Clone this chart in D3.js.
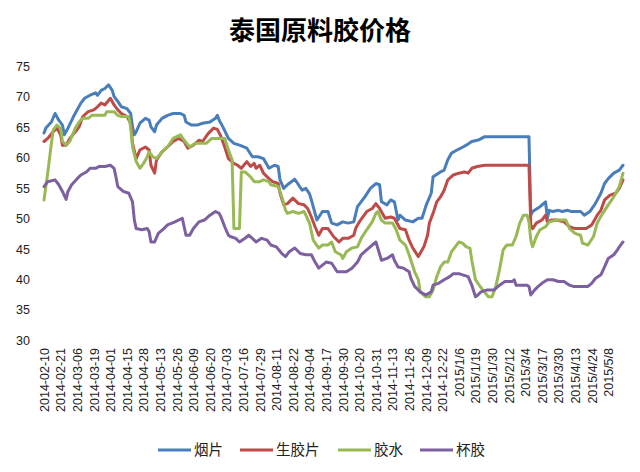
<!DOCTYPE html>
<html><head><meta charset="utf-8">
<script src="https://cdn.jsdelivr.net/npm/d3@7/dist/d3.min.js"></script>
<style>
html,body{margin:0;padding:0;background:#fff;}
svg{display:block;}
</style></head>
<body>
<svg id="chart" width="640" height="472"></svg>
<script>
const title = "泰国原料胶价格";
const tickLabels = ["2014-02-10","2014-02-21","2014-03-06","2014-03-19","2014-04-01","2014-04-15","2014-04-28","2014-05-13","2014-05-26","2014-06-09","2014-06-20","2014-07-03","2014-07-16","2014-07-29","2014-08-11","2014-08-22","2014-09-04","2014-09-17","2014-09-30","2014-10-20","2014-10-31","2014-11-13","2014-11-26","2014-12-09","2014-12-22","2015/1/6","2015/1/19","2015/1/30","2015/2/12","2015/3/4","2015/3/17","2015/3/30","2015/4/13","2015/4/24","2015/5/8"];
const daysPerTick = 9;
const lastDay = 314;
const yTicks = [30,35,40,45,50,55,60,65,70,75];
const seriesNames = ["烟片","生胶片","胶水","杯胶"];
const seriesColors = ["#4a7ebb","#be4b48","#98b954","#7d60a0"];

// [trading-day index, price]
const yanpian = [[0,64.0],[1,64.8],[4,65.8],[6,67.2],[8,66.1],[10,65.3],[11,63.7],[13,64.8],[16,66.7],[18,67.8],[20,68.9],[22,69.7],[25,70.2],[28,70.6],[29,70.2],[31,71.0],[33,71.3],[35,71.9],[37,71.0],[38,70.0],[40,69.2],[42,68.3],[45,68.0],[47,67.2],[48,65.0],[49,63.7],[50,64.2],[52,65.6],[55,66.4],[57,66.1],[58,65.0],[60,64.2],[61,65.3],[64,66.4],[67,66.9],[70,67.2],[74,67.2],[76,66.9],[77,65.8],[80,65.3],[83,65.3],[86,65.6],[90,65.8],[93,66.4],[94,66.9],[95,66.1],[97,65.0],[100,63.1],[103,62.3],[106,62.0],[110,61.5],[113,60.1],[116,60.1],[119,59.8],[122,58.2],[125,58.7],[127,58.5],[128,56.3],[130,54.9],[132,55.5],[136,56.4],[138,55.5],[140,54.6],[142,54.9],[144,54.0],[145,53.0],[148,49.7],[151,51.1],[154,51.1],[156,49.2],[159,48.9],[162,49.4],[165,49.2],[168,49.4],[170,51.9],[174,53.5],[177,54.9],[180,55.7],[182,55.5],[183,52.7],[186,52.2],[188,53.0],[190,52.7],[192,49.7],[193,50.5],[196,49.7],[200,49.4],[203,50.0],[205,50.0],[207,51.9],[208,52.7],[210,54.1],[211,56.8],[215,57.6],[217,57.9],[219,59.6],[221,60.7],[224,61.2],[226,61.5],[229,62.0],[232,62.6],[236,62.9],[239,63.4],[263,63.4],[264,50.5],[265,51.1],[269,51.9],[272,52.7],[273,50.0],[274,51.3],[276,51.1],[279,51.3],[281,51.1],[284,51.3],[286,51.1],[291,51.1],[293,50.5],[296,51.1],[299,52.4],[302,54.1],[304,55.7],[306,56.5],[309,57.4],[312,57.9],[314,58.7]];
const shengjiaopian = [[0,62.6],[2,63.1],[5,64.2],[7,64.8],[9,63.7],[10,62.0],[12,62.0],[14,63.1],[17,64.2],[19,65.0],[20,65.8],[21,66.7],[24,67.5],[27,67.8],[29,68.3],[31,68.9],[33,68.6],[36,69.7],[38,68.6],[40,67.8],[42,67.2],[45,66.7],[47,65.6],[48,62.3],[50,59.8],[52,61.2],[55,61.7],[57,61.2],[58,58.7],[60,57.4],[61,59.6],[64,60.9],[67,61.7],[70,62.6],[73,63.1],[76,62.6],[78,61.5],[81,62.0],[84,62.8],[86,62.6],[89,63.9],[92,64.8],[94,64.6],[96,63.4],[98,61.7],[100,59.8],[103,59.0],[105,58.7],[107,58.2],[110,59.3],[112,58.5],[114,59.0],[115,58.2],[117,58.7],[119,57.4],[122,56.5],[124,56.0],[127,55.7],[128,54.1],[130,52.2],[132,52.4],[135,53.3],[138,52.4],[141,52.2],[143,51.6],[145,50.2],[147,48.6],[149,47.2],[151,48.3],[154,48.3],[157,47.0],[160,46.1],[162,46.7],[165,46.7],[168,47.2],[169,48.3],[171,49.4],[175,51.1],[178,51.6],[180,52.4],[182,51.6],[185,50.0],[188,50.2],[190,50.0],[193,48.3],[196,48.1],[198,46.4],[200,45.1],[203,43.7],[206,45.3],[208,47.2],[209,49.2],[211,50.8],[213,52.7],[215,53.5],[217,54.6],[219,56.3],[222,57.1],[225,57.4],[228,57.6],[230,57.4],[232,58.2],[235,58.5],[239,58.7],[263,58.7],[264,48.9],[265,48.3],[267,49.2],[270,49.7],[272,50.5],[273,49.4],[275,49.7],[278,49.7],[282,49.4],[285,48.6],[288,48.3],[294,48.3],[297,48.9],[300,50.5],[302,51.3],[304,53.0],[307,53.8],[310,54.1],[312,54.9],[314,56.3]];
const jiaoshui = [[0,53.0],[2,57.4],[4,62.3],[5,64.5],[7,65.3],[9,64.8],[10,62.6],[12,62.0],[14,62.6],[17,64.8],[19,65.8],[21,66.4],[24,66.4],[26,66.9],[33,66.9],[34,67.5],[38,67.5],[40,66.9],[42,66.7],[46,66.7],[47,65.0],[48,61.7],[50,59.3],[52,58.2],[54,59.0],[56,60.1],[57,60.9],[59,60.1],[61,59.8],[64,60.9],[67,61.7],[70,63.1],[74,63.7],[76,62.8],[79,61.7],[82,62.3],[88,62.3],[91,63.1],[98,63.1],[100,61.2],[102,59.6],[103,48.3],[106,48.3],[107,57.6],[109,57.6],[112,56.8],[114,56.0],[117,56.0],[119,56.3],[122,56.0],[123,55.5],[127,55.2],[129,53.5],[131,51.3],[132,50.8],[135,51.1],[138,50.8],[141,51.1],[142,50.5],[144,49.2],[146,46.4],[149,45.1],[151,45.6],[154,45.6],[156,46.1],[158,44.5],[161,44.0],[162,43.4],[164,44.5],[167,45.1],[170,45.3],[172,46.7],[175,48.1],[178,49.4],[180,50.8],[181,51.1],[183,49.7],[185,49.2],[189,49.2],[191,48.1],[193,46.4],[196,45.6],[198,44.0],[201,41.2],[203,39.9],[204,37.9],[207,37.1],[209,37.1],[211,38.2],[213,40.4],[215,42.0],[217,42.8],[219,42.8],[221,44.5],[223,45.3],[225,46.1],[227,45.9],[229,45.3],[231,45.1],[232,43.1],[234,39.9],[236,39.0],[238,38.2],[241,37.1],[243,37.1],[245,38.8],[247,41.5],[249,44.8],[251,45.6],[254,45.6],[256,47.0],[258,49.2],[260,50.5],[262,50.5],[263,49.4],[264,46.4],[265,45.3],[267,47.0],[269,48.1],[272,48.6],[274,49.4],[278,49.7],[283,49.7],[285,48.3],[288,47.5],[291,47.2],[292,45.9],[295,45.6],[298,47.0],[300,49.2],[303,50.8],[306,52.2],[309,53.5],[312,55.2],[314,57.4]];
const beijiao = [[0,55.2],[2,56.0],[6,56.3],[8,55.5],[10,54.4],[12,53.1],[13,54.4],[15,55.5],[18,56.5],[20,57.1],[23,57.6],[25,58.2],[28,58.2],[30,58.5],[33,58.5],[36,58.7],[38,58.2],[39,56.8],[40,55.2],[43,54.4],[46,54.1],[48,52.7],[49,49.7],[50,48.3],[53,48.1],[56,48.3],[57,47.8],[58,46.1],[60,46.1],[62,47.5],[65,48.3],[67,48.9],[71,49.4],[75,50.0],[76,48.6],[77,47.2],[79,47.2],[81,48.3],[84,49.4],[87,49.7],[90,50.5],[93,51.1],[95,50.8],[96,50.2],[98,48.6],[100,47.2],[101,47.0],[104,46.7],[106,46.1],[109,46.7],[111,47.2],[113,46.7],[115,46.1],[118,46.7],[121,46.4],[123,45.6],[126,45.3],[129,44.2],[131,43.7],[133,44.5],[136,45.1],[139,44.2],[142,44.0],[145,44.0],[147,42.8],[149,41.8],[151,42.3],[153,42.8],[156,42.6],[159,41.2],[164,41.2],[167,41.8],[170,42.8],[172,44.0],[175,44.8],[178,45.6],[180,46.1],[181,45.1],[183,43.1],[186,43.4],[189,44.0],[190,43.1],[192,42.0],[195,41.8],[198,41.2],[199,40.1],[201,38.8],[204,37.9],[207,37.4],[210,37.9],[211,39.0],[214,39.3],[217,39.9],[220,40.4],[222,40.9],[225,40.9],[227,40.7],[230,40.4],[232,39.0],[234,37.1],[235,37.3],[237,37.9],[240,38.2],[244,38.2],[247,39.0],[250,39.6],[254,39.6],[255,39.9],[256,39.0],[262,39.0],[263,38.8],[264,37.4],[266,38.2],[268,38.8],[270,39.3],[273,39.9],[276,39.9],[279,39.6],[282,39.6],[285,39.0],[287,38.8],[295,38.8],[297,39.3],[299,40.1],[302,40.7],[304,42.0],[306,43.4],[309,44.0],[311,44.8],[312,45.3],[314,46.1]];
const seriesData = [yanpian, shengjiaopian, jiaoshui, beijiao];

const svg = d3.select("#chart");
const x = d3.scaleLinear().domain([0, lastDay]).range([44, 623]);
const y = d3.scaleLinear().domain([30, 75]).range([340, 66]);

svg.append("text").attr("x", 320).attr("y", 40).attr("text-anchor", "middle")
  .attr("font-family", "'Noto Sans CJK SC', sans-serif").attr("font-weight", 700)
  .attr("font-size", 26).attr("fill", "#000").text(title);

// y axis
const yAxis = d3.axisLeft(y).tickValues(yTicks).tickSize(0).tickPadding(0);
const gy = svg.append("g").attr("transform", "translate(30,0)").call(yAxis);
gy.select(".domain").remove();
gy.selectAll("text").attr("font-family", "'Liberation Sans', Arial, sans-serif")
  .attr("font-size", 12.5).attr("fill", "#222").attr("dy", "0.35em");

// x axis
const tickIdx = tickLabels.map((_, i) => i * daysPerTick);
const xAxis = d3.axisBottom(x).tickValues(tickIdx).tickFormat((d, i) => tickLabels[i]).tickSize(0).tickPadding(0);
const gx = svg.append("g").attr("transform", "translate(0,348)").call(xAxis);
gx.select(".domain").remove();
gx.selectAll("text").attr("font-family", "'Liberation Sans', Arial, sans-serif")
  .attr("font-size", 12.5).attr("fill", "#222")
  .attr("text-anchor", "end").attr("transform", "rotate(-90)")
  .attr("x", 0).attr("y", 0).attr("dx", 0).attr("dy", "0.35em");

// lines
const line = d3.line().x(d => x(d[0])).y(d => y(d[1]));
seriesData.forEach((s, i) => {
  svg.append("path").datum(s).attr("d", line).attr("fill", "none")
    .attr("stroke", seriesColors[i]).attr("stroke-width", 3)
    .attr("stroke-linejoin", "round").attr("stroke-linecap", "round");
});

// legend
const legendX = [158, 240, 338, 420];
const lg = svg.append("g");
seriesNames.forEach((n, i) => {
  lg.append("line").attr("x1", legendX[i]).attr("x2", legendX[i] + 33)
    .attr("y1", 450).attr("y2", 450).attr("stroke", seriesColors[i]).attr("stroke-width", 3);
  lg.append("text").attr("x", legendX[i] + 36).attr("y", 450).attr("dy", "0.35em")
    .attr("font-family", "'Noto Sans CJK SC', sans-serif").attr("font-size", 14.5)
    .attr("fill", "#222").text(n);
});
</script>
</body></html>
